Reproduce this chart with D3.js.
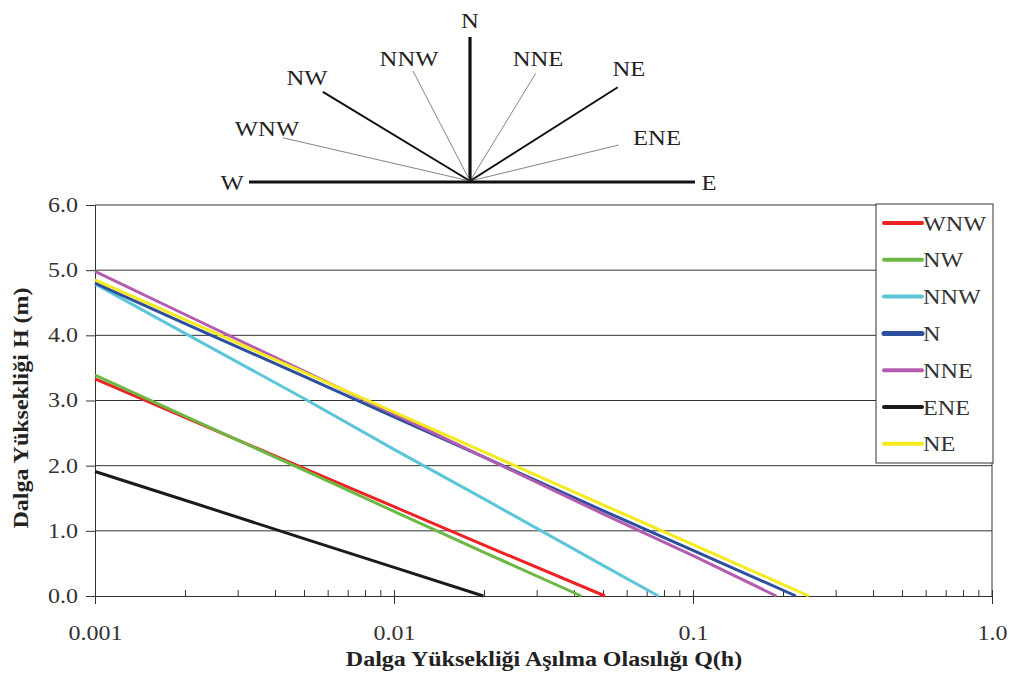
<!DOCTYPE html>
<html>
<head>
<meta charset="utf-8">
<script src="https://cdn.jsdelivr.net/npm/d3@7"></script>
<style>
  body { margin: 0; background: #fff; }
  svg { display: block; font-family: "Liberation Serif", "Times New Roman", serif; }
</style>
</head>
<body>
<svg id="chart" width="1011" height="682"></svg>
<script>
// series, [Q, H] pairs
var WNW = [[0.001, 3.33], [0.002, 2.74], [0.005, 1.96], [0.01, 1.37], [0.02, 0.78], [0.0508, 0]];
var NW  = [[0.001, 3.39], [0.002, 2.76], [0.005, 1.93], [0.01, 1.30], [0.02, 0.67], [0.0423, 0]];
var NNW = [[0.001, 4.79], [0.002, 4.03], [0.005, 3.03], [0.01, 2.25], [0.02, 1.49], [0.05, 0.47], [0.0766, 0]];
var N   = [[0.001, 4.80], [0.002, 4.18], [0.005, 3.37], [0.01, 2.75], [0.02, 2.13], [0.05, 1.31], [0.1, 0.70], [0.221, 0]];
var NNE = [[0.001, 4.98], [0.002, 4.32], [0.005, 3.45], [0.01, 2.79], [0.02, 2.13], [0.05, 1.26], [0.1, 0.62], [0.19, 0]];
var ENE = [[0.001, 1.91], [0.002, 1.47], [0.005, 0.88], [0.01, 0.44], [0.0199, 0]];
var NE  = [[0.001, 4.85], [0.002, 4.24], [0.005, 3.43], [0.01, 2.82], [0.02, 2.21], [0.05, 1.40], [0.1, 0.79], [0.244, 0]];

var SERIES_NAMES = ["WNW", "NW", "NNW", "N", "NNE", "ENE", "NE"];
var SERIES_DATA = [WNW, NW, NNW, N, NNE, ENE, NE];
var SERIES_COLORS = ["#ee2124", "#6cb845", "#5cc6d8", "#2e4f9e", "#b45db0", "#1b1b1b", "#f4ea1c"];

var Y_TICKS = [0, 1, 2, 3, 4, 5, 6];
var X_TICKS = [0.001, 0.01, 0.1, 1];
var X_TICK_LABELS = ["0.001", "0.01", "0.1", "1.0"];

// compass: direction, angle from east (deg), ray length
var DIR_NAMES  = ["ENE", "NE", "NNE", "N", "NNW", "NW", "WNW"];
var DIR_ANGLES = [13.6, 32.4, 58.6, 90, 117.4, 148.8, 167];
var DIR_LENGTH = [153, 175, 126, 144, 124, 172, 192];

// the original text is a bit wider than Times, stretch it sideways
var STRETCH = 1.2;

var svg = d3.select("#chart");

var x = d3.scaleLog().domain([0.001, 1]).range([95, 992]);
var y = d3.scaleLinear().domain([0, 6]).range([596, 205]);

function label(parent, px, py, txt, size, sx) {
    return parent.append("text")
        .attr("transform", `translate(${px},${py}) scale(${sx},1)`)
        .attr("text-anchor", "middle").attr("dominant-baseline", "central")
        .attr("font-size", size).attr("fill", "#222")
        .text(txt);
}

// compass diagram
var cx = 470, cy = 181;
var compass = svg.append("g");
DIR_NAMES.forEach(function(name, i) {
    var a = DIR_ANGLES[i] * Math.PI / 180;
    var ex = cx + DIR_LENGTH[i] * Math.cos(a), ey = cy - DIR_LENGTH[i] * Math.sin(a);
    var major = name === "N" || name === "NE" || name === "NW";
    compass.append("line")
        .attr("x1", cx).attr("y1", cy).attr("x2", ex).attr("y2", ey)
        .attr("stroke", major ? "#111" : "#777")
        .attr("stroke-width", name === "N" ? 3.2 : (major ? 2 : 0.9));
    var lx = ex + 17 * Math.cos(a), ly = ey - 17 * Math.sin(a);
    if (name === "WNW") { lx = 267; ly = 128; }
    if (name === "ENE") { lx = 657; ly = 137; }
    if (name === "NE") { lx = 629; ly = 68; }
    if (name === "NW") { lx = 307; ly = 77; }
    if (name === "NNW") { lx = 409; ly = 58; }
    if (name === "NNE") { lx = 538; ly = 58; }
    label(compass, lx, ly, name, 22, 1.12);
});
compass.append("line")
    .attr("x1", 249).attr("y1", cy + 1).attr("x2", 695).attr("y2", cy + 1)
    .attr("stroke", "#111").attr("stroke-width", 3.2);
label(compass, 232, 182, "W", 22, 1.12);
label(compass, 709, 182, "E", 22, 1.12);

// gridlines
svg.append("g").selectAll("line")
    .data(Y_TICKS.filter(d => d > 0))
    .enter().append("line")
    .attr("x1", x(0.001)).attr("x2", x(1))
    .attr("y1", d => y(d)).attr("y2", d => y(d))
    .attr("stroke", "#333").attr("stroke-width", 1);

// right border of plot area
svg.append("line")
    .attr("x1", x(1)).attr("x2", x(1)).attr("y1", y(6)).attr("y2", y(0))
    .attr("stroke", "#333");

// y axis
var yAxis = svg.append("g")
    .attr("transform", `translate(${x(0.001)},0)`)
    .call(d3.axisLeft(y).tickValues(Y_TICKS).tickFormat(d3.format(".1f")).tickSize(9).tickPadding(8));
yAxis.selectAll("text")
    .attr("font-size", 20).attr("fill", "#333").attr("font-family", "Liberation Serif")
    .attr("x", -17 / STRETCH)
    .attr("transform", `scale(${STRETCH},1)`);
yAxis.selectAll("line, path").attr("stroke", "#333");

// x axis, minor ticks pointing up
var minor = [];
[0.001, 0.01, 0.1].forEach(function(d) {
    for (var k = 2; k <= 9; k++) minor.push(d * k);
});
svg.append("g")
    .attr("transform", `translate(0,${y(0)})`)
    .call(d3.axisBottom(x).tickValues(minor).tickFormat("").tickSize(-6).tickSizeOuter(0))
    .selectAll("line, path").attr("stroke", "#333");

var xAxis = svg.append("g")
    .attr("transform", `translate(0,${y(0)})`)
    .call(d3.axisBottom(x).tickValues(X_TICKS).tickFormat((d, i) => X_TICK_LABELS[i]).tickSize(8).tickSizeOuter(0).tickPadding(22));
xAxis.selectAll("text")
    .attr("font-size", 20).attr("fill", "#333").attr("font-family", "Liberation Serif")
    .attr("transform", `scale(${STRETCH},1)`);
xAxis.selectAll("line, path").attr("stroke", "#333");
xAxis.selectAll(".tick line").attr("y1", -6);

// series lines
var line = d3.line()
    .x(d => x(d[0]))
    .y(d => y(d[1]));

SERIES_DATA.forEach(function(data, i) {
    svg.append("path")
        .datum(data)
        .attr("fill", "none")
        .attr("stroke", SERIES_COLORS[i])
        .attr("stroke-width", 3)
        .attr("d", line);
});

// legend
var legend = svg.append("g").attr("transform", "translate(876,204)");
legend.append("rect")
    .attr("width", 117).attr("height", 259)
    .attr("fill", "#fff").attr("stroke", "#333");
SERIES_NAMES.forEach(function(name, i) {
    var ly = 19 + i * 36.8;
    legend.append("line")
        .attr("x1", 8).attr("x2", 46).attr("y1", ly).attr("y2", ly)
        .attr("stroke", SERIES_COLORS[i])
        .attr("stroke-width", name === "N" ? 5 : 4)
        .attr("stroke-linecap", "round");
    legend.append("text")
        .attr("transform", `translate(47,${ly}) scale(1.1,1)`)
        .attr("dominant-baseline", "central")
        .attr("font-size", 22).attr("fill", "#333")
        .text(name);
});

// axis titles
svg.append("text")
    .attr("transform", `translate(544,666) scale(${STRETCH},1)`)
    .attr("text-anchor", "middle")
    .attr("font-size", 20).attr("font-weight", "bold").attr("fill", "#222")
    .text("Dalga Yüksekliği Aşılma Olasılığı Q(h)");

svg.append("text")
    .attr("transform", `translate(21,408) rotate(-90) scale(${STRETCH},1)`)
    .attr("text-anchor", "middle")
    .attr("dominant-baseline", "central")
    .attr("font-size", 20).attr("font-weight", "bold").attr("fill", "#222")
    .text("Dalga Yüksekliği H (m)");
</script>
</body>
</html>
